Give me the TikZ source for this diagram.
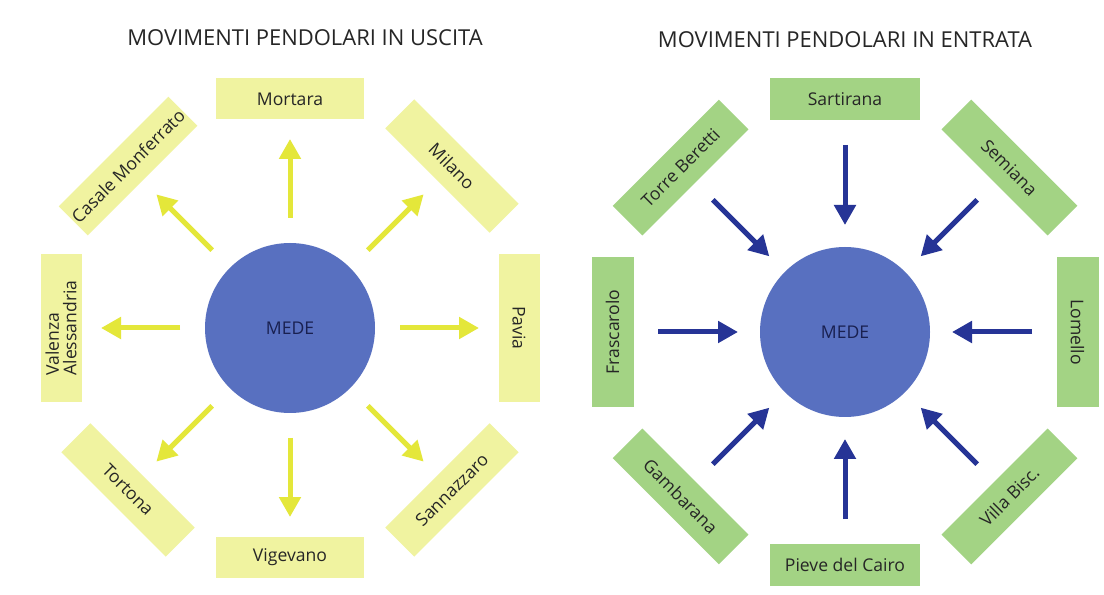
\documentclass[tikz,border=0pt]{standalone}
\usepackage{fontspec}
\setmainfont{Open Sans}
\usetikzlibrary{arrows.meta}
\usetikzlibrary{calc}

\definecolor{boxyellow}{RGB}{240,243,160}
\definecolor{arryellow}{RGB}{228,231,58}
\definecolor{boxgreen}{RGB}{163,211,132}
\definecolor{arrblue}{RGB}{38,52,150}
\definecolor{medeblue}{RGB}{88,112,192}
\definecolor{medetext}{RGB}{25,32,80}

\tikzset{
  town/.style={minimum width=2.95cm, minimum height=0.82cm, inner sep=1pt, outer sep=0pt, text=black!85, font=\fontsize{10}{11}\selectfont},
  ytown/.style={town, fill=boxyellow},
  gtown/.style={town, fill=boxgreen, minimum width=3cm, minimum height=0.84cm},
  centre/.style={circle, fill=medeblue, minimum size=3.4cm, inner sep=0pt, outer sep=0pt, text=medetext, font=\fontsize{10}{11}\selectfont},
  outgo/.style={draw=arryellow, line width=0.1cm, -{Triangle[length=0.4cm,width=0.42cm]}, shorten <=0.5cm, shorten >=0.39cm},
  income/.style={draw=arrblue, line width=0.1cm, -{Triangle[length=0.4cm,width=0.42cm]}, shorten <=0.49cm, shorten >=0.44cm},
  heading/.style={text=black!85, font=\fontsize{12.5}{14}\selectfont}
}

\begin{document}
\begin{tikzpicture}
\path[fill=white] (0,0) rectangle (22.08,-11.9);

% uscita
\node[heading] (outtitle) at (6.1,-0.76) {MOVIMENTI PENDOLARI IN USCITA};
\node[centre] (medeout) at (5.8,-6.56) {MEDE};
\node[ytown] (mortara) at ($(medeout)+(90:4.58)$) {Mortara};
\node[ytown, rotate=-45] (milano) at ($(medeout)+(45:4.58)$) {Milano};
\node[ytown, rotate=-90] (pavia) at ($(medeout)+(0:4.58)$) {Pavia};
\node[ytown, rotate=45] (sannazzaro) at ($(medeout)+(-45:4.58)$) {Sannazzaro};
\node[ytown] (vigevano) at ($(medeout)+(-90:4.58)$) {Vigevano};
\node[ytown, rotate=-45] (tortona) at ($(medeout)+(-135:4.58)$) {Tortona};
\node[ytown, rotate=90, align=left, font=\fontsize{10}{10}\selectfont] (valenza) at ($(medeout)+(180:4.58)$) {Valenza\\Alessandria};
\node[ytown, rotate=45] (casale) at ($(medeout)+(135:4.58)$) {Casale Monferrato};

\draw[outgo] (medeout) -- (mortara);
\draw[outgo] (medeout) -- (milano);
\draw[outgo] (medeout) -- (pavia);
\draw[outgo] (medeout) -- (sannazzaro);
\draw[outgo] (medeout) -- (vigevano);
\draw[outgo] (medeout) -- (tortona);
\draw[outgo] (medeout) -- (valenza);
\draw[outgo] (medeout) -- (casale);

% entrata
\node[heading] (intitle) at (16.9,-0.8) {MOVIMENTI PENDOLARI IN ENTRATA};
\node[centre] (medein) at (16.9,-6.64) {MEDE};
\node[gtown] (sartirana) at ($(medein)+(90:4.65)$) {Sartirana};
\node[gtown, rotate=-45] (semiana) at ($(medein)+(45:4.65)$) {Semiana};
\node[gtown, rotate=-90] (lomello) at ($(medein)+(0:4.65)$) {Lomello};
\node[gtown, rotate=45] (villa) at ($(medein)+(-45:4.65)$) {Villa Bisc.};
\node[gtown] (pieve) at ($(medein)+(-90:4.65)$) {Pieve del Cairo};
\node[gtown, rotate=-45] (gambarana) at ($(medein)+(-135:4.65)$) {Gambarana};
\node[gtown, rotate=90] (frascarolo) at ($(medein)+(180:4.65)$) {Frascarolo};
\node[gtown, rotate=45] (torre) at ($(medein)+(135:4.65)$) {Torre Beretti};

\draw[income] (sartirana) -- (medein);
\draw[income] (semiana) -- (medein);
\draw[income] (lomello) -- (medein);
\draw[income] (villa) -- (medein);
\draw[income] (pieve) -- (medein);
\draw[income] (gambarana) -- (medein);
\draw[income] (frascarolo) -- (medein);
\draw[income] (torre) -- (medein);
\end{tikzpicture}
\end{document}
